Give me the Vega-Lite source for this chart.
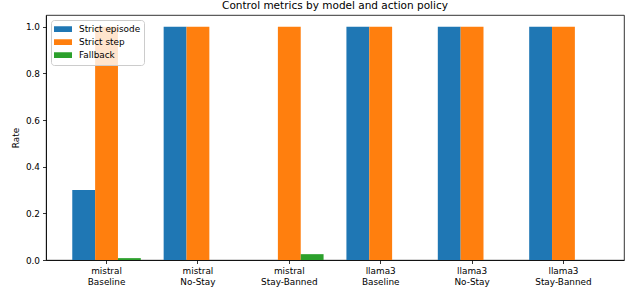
{
  "$schema": "https://vega.github.io/schema/vega-lite/v6.json",
  "width": 578,
  "height": 245,
  "autosize": {"type": "none"},
  "padding": {"left": 46, "top": 15, "right": 14, "bottom": 33},
  "background": "white",
  "title": {"text": "Control metrics by model and action policy", "fontSize": 10.5, "fontWeight": "normal", "font": "DejaVu Sans", "color": "black", "offset": 3.5},
  "config": {
    "font": "DejaVu Sans",
    "view": {"stroke": "black", "strokeWidth": 0.8},
    "axis": {"grid": false, "domainColor": "black", "domainWidth": 0.8, "tickColor": "black", "tickWidth": 0.8, "tickSize": 3.5, "labelFontSize": 8.9, "labelColor": "black", "titleFontWeight": "normal", "titleFontSize": 8.9, "titleColor": "black", "labelPadding": 3}
  },
  "data": {"values": [
    {"group": "mistral|Baseline", "metric": "Strict episode", "rate": 0.30},
    {"group": "mistral|Baseline", "metric": "Strict step", "rate": 1.0},
    {"group": "mistral|Baseline", "metric": "Fallback", "rate": 0.008},
    {"group": "mistral|No-Stay", "metric": "Strict episode", "rate": 1.0},
    {"group": "mistral|No-Stay", "metric": "Strict step", "rate": 1.0},
    {"group": "mistral|No-Stay", "metric": "Fallback", "rate": 0.0},
    {"group": "mistral|Stay-Banned", "metric": "Strict episode", "rate": 0.0},
    {"group": "mistral|Stay-Banned", "metric": "Strict step", "rate": 1.0},
    {"group": "mistral|Stay-Banned", "metric": "Fallback", "rate": 0.025},
    {"group": "llama3|Baseline", "metric": "Strict episode", "rate": 1.0},
    {"group": "llama3|Baseline", "metric": "Strict step", "rate": 1.0},
    {"group": "llama3|Baseline", "metric": "Fallback", "rate": 0.0},
    {"group": "llama3|No-Stay", "metric": "Strict episode", "rate": 1.0},
    {"group": "llama3|No-Stay", "metric": "Strict step", "rate": 1.0},
    {"group": "llama3|No-Stay", "metric": "Fallback", "rate": 0.0},
    {"group": "llama3|Stay-Banned", "metric": "Strict episode", "rate": 1.0},
    {"group": "llama3|Stay-Banned", "metric": "Strict step", "rate": 1.0},
    {"group": "llama3|Stay-Banned", "metric": "Fallback", "rate": 0.0}
  ]},
  "mark": {"type": "bar"},
  "encoding": {
    "x": {
      "field": "group", "type": "nominal", "sort": null,
      "scale": {"paddingInner": 0.25, "paddingOuter": 0.2875},
      "axis": {"title": null, "labelAngle": 0, "labelExpr": "split(datum.label, '|')", "labelLineHeight": 11, "domain": true}
    },
    "xOffset": {"field": "metric", "type": "nominal", "sort": ["Strict episode", "Strict step", "Fallback"], "scale": {"paddingInner": 0, "paddingOuter": 0}},
    "y": {
      "field": "rate", "type": "quantitative",
      "scale": {"domain": [0, 1.05], "nice": false},
      "axis": {"title": "Rate", "values": [0, 0.2, 0.4, 0.6, 0.8, 1.0], "format": ".1f", "titlePadding": 5}
    },
    "color": {
      "field": "metric", "type": "nominal",
      "scale": {"domain": ["Strict episode", "Strict step", "Fallback"], "range": ["#1f77b4", "#ff7f0e", "#2ca02c"]},
      "legend": {
        "title": null, "orient": "top-left", "offset": 5,
        "symbolType": "M-1,-0.32L1,-0.32L1,0.32L-1,0.32Z", "symbolSize": 324, "symbolStrokeWidth": 0,
        "labelFontSize": 8.9, "labelColor": "black", "labelOffset": 7,
        "clipHeight": 12.4, "rowPadding": 0, "padding": 3,
        "strokeColor": "#cccccc", "fillColor": "rgba(255,255,255,0.8)", "cornerRadius": 3
      }
    }
  }
}
